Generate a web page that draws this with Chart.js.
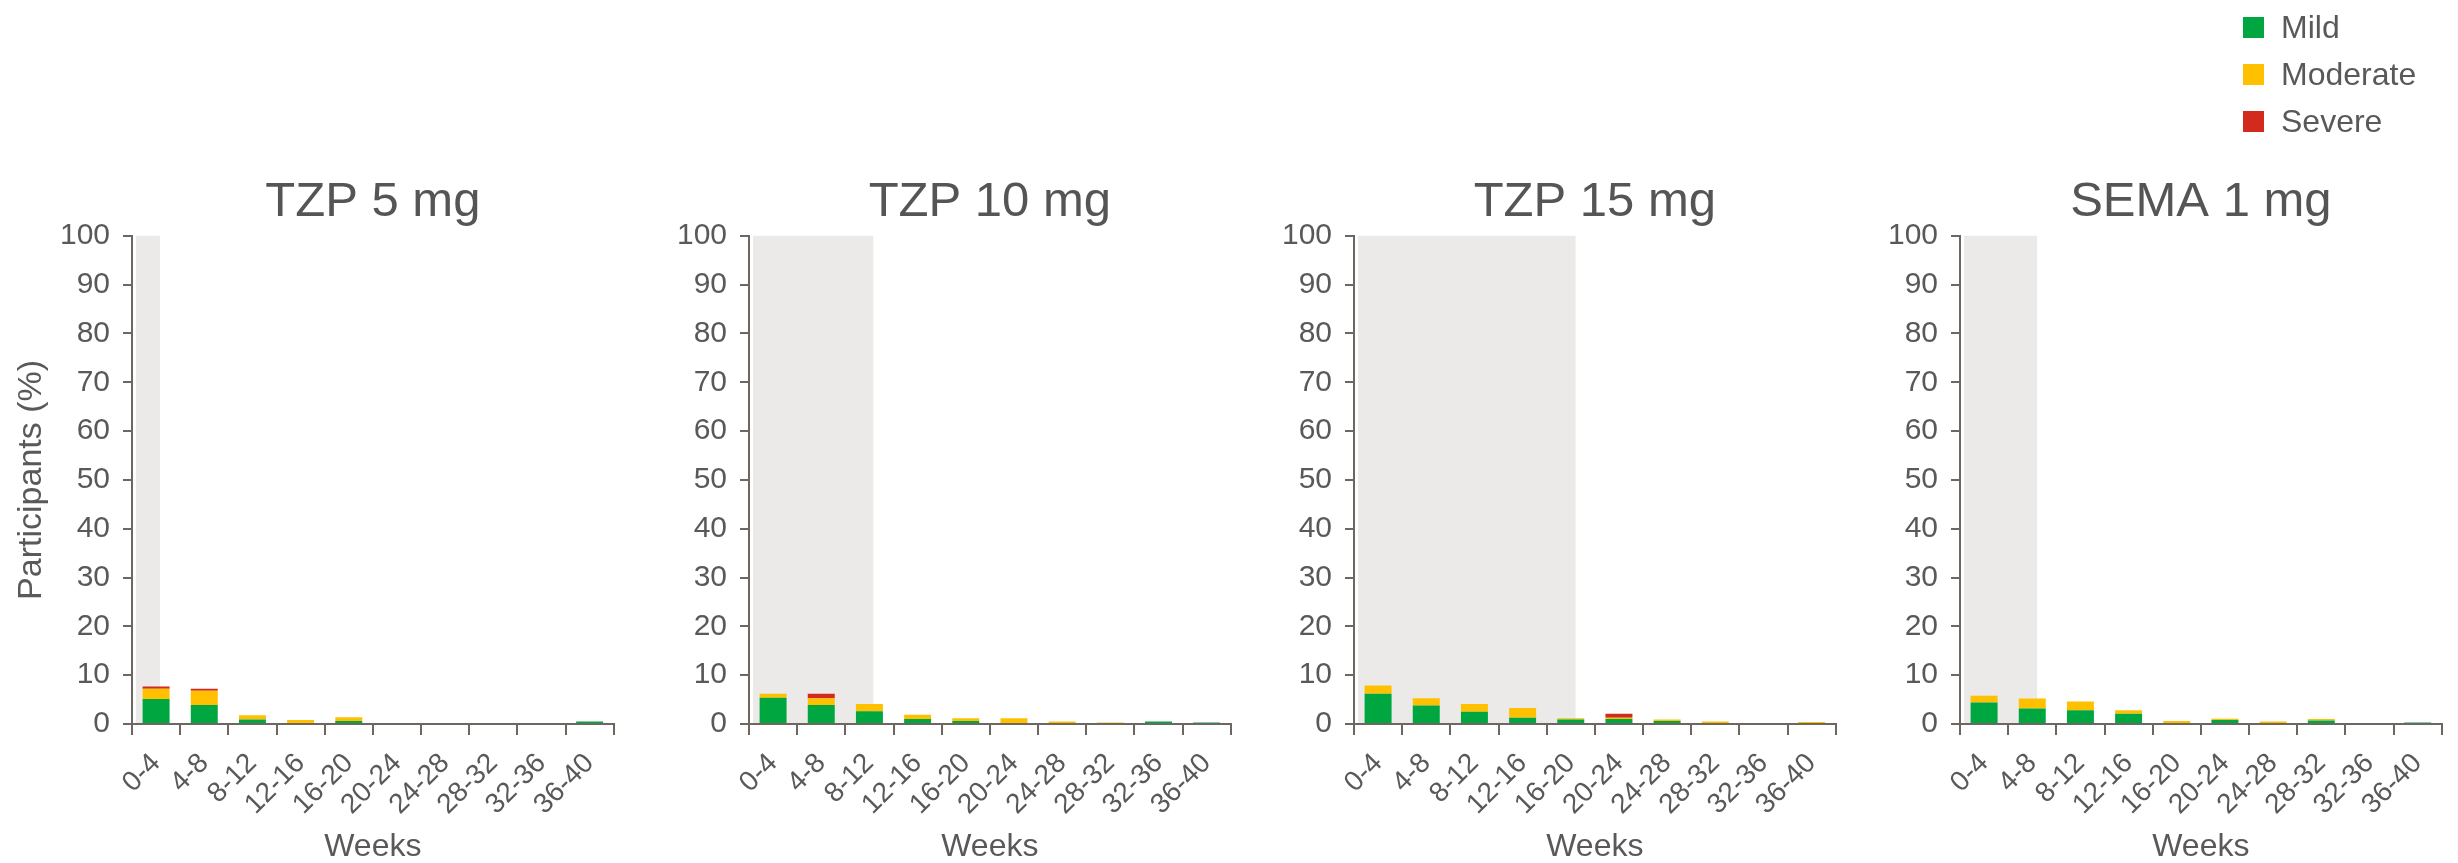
<!DOCTYPE html>
<html>
<head>
<meta charset="utf-8">
<script src="https://cdn.jsdelivr.net/npm/chart.js@4/dist/chart.umd.min.js"></script>
<style>
  body { margin: 0; width: 2458px; height: 863px; overflow: hidden; background: #fff;
         font-family: "Liberation Sans", Arial, sans-serif; position: relative; }
  canvas.panel { position: absolute; top: 0; }
  #legend { position: absolute; left: 2243px; top: 4px; z-index: 2; }
  .item { display: flex; align-items: center; height: 47px; font-size: 32px; color: #595959; }
  .swatch { width: 21px; height: 21px; margin-right: 17px; }
</style>
</head>
<body>
<div id="legend"></div>
<script>
// categories
const weeks = ["0-4", "4-8", "8-12", "12-16", "16-20", "20-24", "24-28", "28-32", "32-36", "36-40"];
const severities = ["Mild", "Moderate", "Severe"];
const arms = ["TZP 5 mg", "TZP 10 mg", "TZP 15 mg", "SEMA 1 mg"];

// participants (%) per 4-week window
const tzp5Mild      = [5.1, 3.9, 0.9, 0.0, 0.6, 0, 0, 0, 0, 0.5];
const tzp5Moderate  = [2.1, 2.9, 0.9, 0.8, 0.8, 0, 0, 0, 0, 0];
const tzp5Severe    = [0.5, 0.4, 0, 0, 0, 0, 0, 0, 0, 0];

const tzp10Mild     = [5.4, 3.9, 2.6, 1.0, 0.6, 0, 0, 0, 0.5, 0.3];
const tzp10Moderate = [0.8, 1.4, 1.5, 0.9, 0.6, 1.2, 0.5, 0.3, 0, 0];
const tzp10Severe   = [0, 0.9, 0, 0, 0, 0, 0, 0, 0, 0];

const tzp15Mild     = [6.2, 3.8, 2.5, 1.3, 0.9, 1.0, 0.6, 0.2, 0, 0];
const tzp15Moderate = [1.7, 1.5, 1.6, 2.0, 0.3, 0.3, 0.3, 0.3, 0, 0.4];
const tzp15Severe   = [0, 0, 0, 0, 0, 0.8, 0, 0, 0, 0];

const semaMild      = [4.4, 3.2, 2.8, 2.1, 0, 0.8, 0, 0.7, 0, 0.3];
const semaModerate  = [1.4, 2.0, 1.8, 0.7, 0.6, 0.3, 0.5, 0.3, 0, 0];
const semaSevere    = [0, 0, 0, 0, 0, 0, 0, 0, 0, 0];

// dose-escalation period, shaded up to this category position
const shadedUntil = [0.08, 2.08, 4.1, 1.1];

const yTicks = [0, 10, 20, 30, 40, 50, 60, 70, 80, 90, 100];

const series = [
  [tzp5Mild, tzp5Moderate, tzp5Severe],
  [tzp10Mild, tzp10Moderate, tzp10Severe],
  [tzp15Mild, tzp15Moderate, tzp15Severe],
  [semaMild, semaModerate, semaSevere],
];

const colors = ["#00a640", "#ffc000", "#d22b1e"];
const AXIS = "#6e6660";
const TEXT = "#595959";

// layout
const plotLefts = [132, 749, 1354, 1960];
const PLOT_W = 486;
const Y_AXIS_W = 132;
const RIGHT_PAD = 8;

Chart.defaults.font.family = '"Liberation Sans", Arial, sans-serif';
Chart.defaults.color = TEXT;

const shadePlugin = {
  id: "escalation",
  beforeDraw(chart, args, opts) {
    const { ctx, chartArea, scales: { x, y } } = chart;
    const right = x.getPixelForValue(opts.until);
    const top = y.getPixelForValue(yTicks[yTicks.length - 1]);
    const bottom = y.getPixelForValue(yTicks[0]);
    ctx.save();
    ctx.fillStyle = "#ebeae8";
    ctx.fillRect(chartArea.left + 4, top, right - chartArea.left - 4, bottom - top);
    ctx.restore();
  },
};

document.addEventListener("DOMContentLoaded", () => {
  const legend = document.getElementById("legend");
  severities.forEach((s, i) => {
    const row = document.createElement("div");
    row.className = "item";
    row.innerHTML = '<span class="swatch" style="background:' + colors[i] + '"></span>' + s;
    legend.appendChild(row);
  });

  arms.forEach((arm, p) => {
    const canvas = document.createElement("canvas");
    canvas.className = "panel";
    canvas.width = Y_AXIS_W + PLOT_W + RIGHT_PAD;
    canvas.height = 863;
    canvas.style.left = (plotLefts[p] - Y_AXIS_W) + "px";
    document.body.appendChild(canvas);

    new Chart(canvas, {
      type: "bar",
      data: {
        labels: weeks,
        datasets: severities.map((s, i) => ({
          label: s,
          data: series[p][i],
          backgroundColor: colors[i],
          barPercentage: 0.56,
          categoryPercentage: 1,
        })),
      },
      options: {
        responsive: false,
        animation: false,
        devicePixelRatio: 1,
        layout: { padding: { top: 173, right: RIGHT_PAD, bottom: 0, left: 0 } },
        plugins: {
          legend: { display: false },
          tooltip: { enabled: false },
          title: {
            display: true,
            text: arm,
            fullSize: false,
            color: "#555555",
            font: { size: 49, weight: "normal", lineHeight: 1.2 },
            padding: { top: 0, bottom: 4 },
          },
          escalation: { until: shadedUntil[p] },
        },
        scales: {
          x: {
            stacked: true,
            grid: { drawOnChartArea: false, drawTicks: true, tickLength: 11, color: AXIS, lineWidth: 2, offset: true },
            border: { display: true, color: AXIS, width: 2 },
            ticks: { autoSkip: false, minRotation: 45, maxRotation: 45, font: { size: 28 }, color: TEXT, padding: 12 },
            title: { display: true, text: "Weeks", font: { size: 32, lineHeight: 1.0 }, color: TEXT, padding: { top: 0, bottom: 0 } },
            afterFit: (s) => { s.height = 139; },
          },
          y: {
            stacked: true,
            min: yTicks[0],
            max: yTicks[yTicks.length - 1],
            afterBuildTicks: (s) => { s.ticks = yTicks.map((v) => ({ value: v })); },
            ticks: { font: { size: 30 }, color: TEXT, padding: 13 },
            grid: { drawOnChartArea: false, drawTicks: true, tickLength: 9, color: AXIS, lineWidth: 2 },
            border: { display: true, color: AXIS, width: 2 },
            title: {
              display: p === 0,
              text: "Participants (%)",
              font: { size: 34 },
              color: TEXT,
              padding: { top: 11, bottom: 0 },
            },
            afterFit: (s) => { s.width = Y_AXIS_W; },
          },
        },
      },
      plugins: [shadePlugin],
    });
  });
});
</script>
</body>
</html>
